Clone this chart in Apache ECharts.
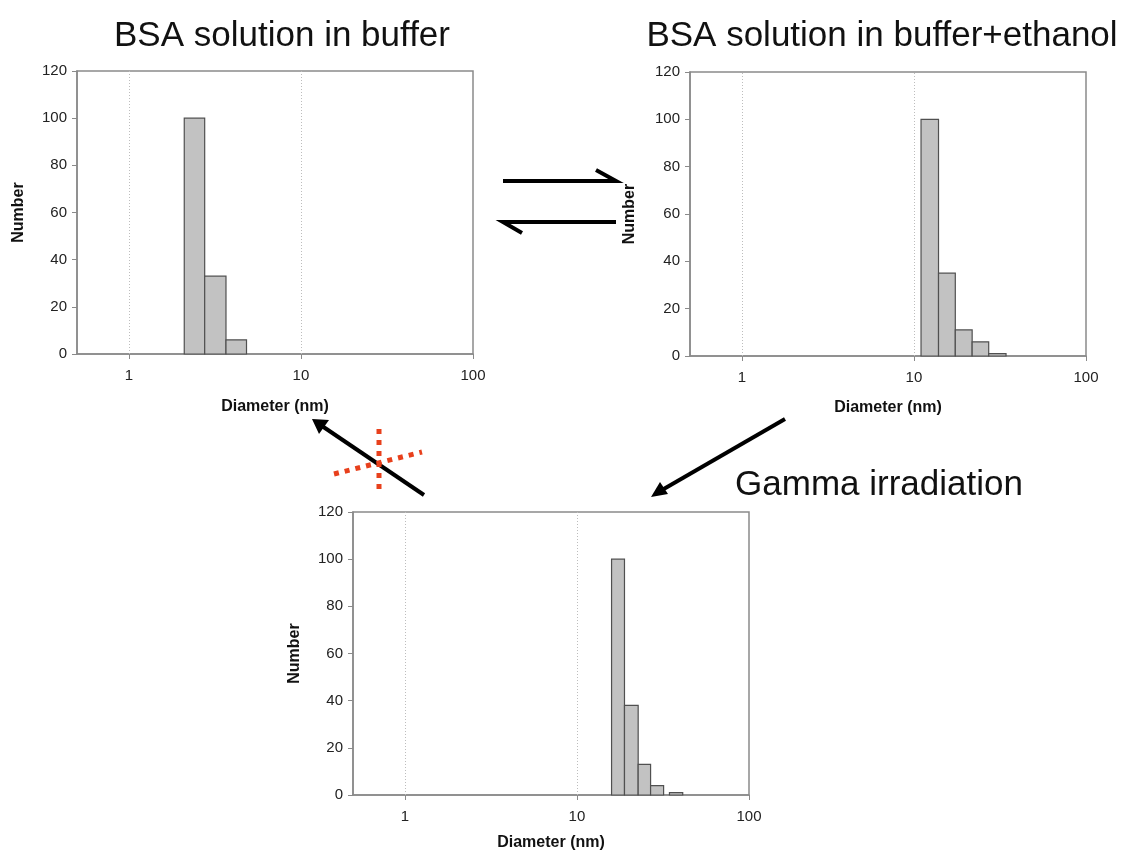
<!DOCTYPE html>
<html>
<head>
<meta charset="utf-8">
<script src="https://cdn.jsdelivr.net/npm/echarts@6/dist/echarts.min.js"></script>
<style>
  html, body { margin: 0; padding: 0; background: #fff; }
  #chart { width: 1123px; height: 854px; }
</style>
</head>
<body>
<div id="chart"></div>
<script>
// Size distributions (number-weighted) on log-spaced diameter bins, nm
const bufferLo  = [2.10, 2.76, 3.67];
const bufferHi  = [2.76, 3.67, 4.83];
const bufferNum = [100, 33, 6];

const ethanolLo  = [11.0, 13.9, 17.4, 21.8, 27.2];
const ethanolHi  = [13.9, 17.4, 21.8, 27.2, 34.3];
const ethanolNum = [100, 35, 11, 6, 1];

const gammaLo  = [15.9, 18.9, 22.7, 26.8, 34.5];
const gammaHi  = [18.9, 22.7, 26.8, 31.9, 41.2];
const gammaNum = [100, 38, 13, 4, 1];

const xTicks = [1, 10, 100];
const xGridLines = [1, 10];
const yTicks = [0, 20, 40, 60, 80, 100, 120];

const panelTitles = ['BSA solution in buffer', 'BSA solution in buffer+ethanol', 'Gamma irradiation'];

const FONT = '"Liberation Sans", Arial, sans-serif';
const TXT = '#222';

const chart = echarts.init(document.getElementById('chart'), null, { renderer: 'canvas' });

// Plot frames (px) for the three panels
const grids = [
  { left: 77,  top: 71,  width: 396, height: 283 },
  { left: 690, top: 72,  width: 396, height: 284 },
  { left: 353, top: 512, width: 396, height: 283 }
];
const nameGapsX = [45, 44, 40];
const nameGapsY = [50, 52, 50];

function rows(lo, hi, n) {
  return lo.map((v, i) => [v, hi[i], n[i]]);
}
const panels = [
  rows(bufferLo, bufferHi, bufferNum),
  rows(ethanolLo, ethanolHi, ethanolNum),
  rows(gammaLo, gammaHi, gammaNum)
];

function renderBin(params, api) {
  const p0 = api.coord([api.value(0), 0]);
  const p1 = api.coord([api.value(1), api.value(2)]);
  return {
    type: 'rect',
    shape: { x: p0[0], y: p1[1], width: p1[0] - p0[0], height: p0[1] - p1[1] },
    style: { fill: '#c2c2c2', stroke: '#505050', lineWidth: 1.2 }
  };
}

const titleStyle = { fontFamily: FONT, fontSize: 35, fontWeight: 'normal', color: '#111' };

const option = {
  backgroundColor: '#fff',
  animation: false,
  title: [
    { text: panelTitles[0], left: 277, top: 14, textAlign: 'center', textStyle: titleStyle },
    { text: panelTitles[1], left: 877, top: 14, textAlign: 'center', textStyle: titleStyle },
    { text: panelTitles[2], left: 874, top: 463, textAlign: 'center', textStyle: titleStyle }
  ],
  grid: grids.map(g => Object.assign({ show: true, borderColor: '#8a8a8a', borderWidth: 1.5,
                                        backgroundColor: 'transparent' }, g)),
  xAxis: grids.map((g, i) => ({
    type: 'log', logBase: 10, min: 0.5, max: 100, gridIndex: i,
    name: 'Diameter (nm)', nameLocation: 'middle', nameGap: nameGapsX[i],
    nameTextStyle: { fontFamily: FONT, fontSize: 16, fontWeight: 'bold', color: '#111' },
    axisLine: { show: true, lineStyle: { color: '#8a8a8a', width: 1.5 } },
    axisTick: { show: true, customValues: xTicks, length: 5, lineStyle: { color: '#8a8a8a' } },
    axisLabel: { customValues: xTicks, margin: 14, fontFamily: FONT, fontSize: 15, color: TXT,
                 formatter: v => String(v) },
    splitLine: { show: false },
    minorTick: { show: false }, minorSplitLine: { show: false }
  })),
  yAxis: grids.map((g, i) => ({
    type: 'value', min: 0, max: 120, interval: 20, gridIndex: i,
    name: 'Number', nameLocation: 'middle', nameGap: nameGapsY[i], nameRotate: 90,
    nameTextStyle: { fontFamily: FONT, fontSize: 16, fontWeight: 'bold', color: '#111' },
    axisLine: { show: true, lineStyle: { color: '#8a8a8a', width: 1.5 } },
    axisTick: { show: true, length: 5, lineStyle: { color: '#8a8a8a' } },
    axisLabel: { margin: 10, fontFamily: FONT, fontSize: 15, color: TXT,
                 formatter: v => (yTicks.indexOf(v) >= 0 ? String(v) : '') },
    splitLine: { show: false }
  })),
  series: panels.map((data, i) => ({
    type: 'custom', xAxisIndex: i, yAxisIndex: i,
    renderItem: renderBin,
    encode: { x: [0, 1], y: 2 },
    data: data, clip: false,
    z: 3,
    // dotted vertical guides at whole decades
    markLine: {
      silent: true, symbol: 'none', label: { show: false }, animation: false,
      lineStyle: { color: '#bdbdbd', type: [1, 2], width: 1 },
      data: xGridLines.map(v => ({ xAxis: v }))
    }
  })),
  graphic: [
    // reversible transfer between buffer and buffer+ethanol
    { type: 'polyline', shape: { points: [[503, 181], [616, 181], [596, 170]] },
      style: { stroke: '#000', lineWidth: 4, fill: null, lineJoin: 'miter' } },
    { type: 'polyline', shape: { points: [[522, 233], [503, 222], [616, 222]] },
      style: { stroke: '#000', lineWidth: 4, fill: null, lineJoin: 'miter' } },
    // ethanol sample -> irradiated sample
    { type: 'line', shape: { x1: 785, y1: 419, x2: 662, y2: 490 },
      style: { stroke: '#000', lineWidth: 4 } },
    { type: 'polygon', shape: { points: [[651, 497], [660, 482], [668, 494]] },
      style: { fill: '#000' } },
    // irradiated -> buffer (blocked)
    { type: 'line', shape: { x1: 424, y1: 495, x2: 322, y2: 426 },
      style: { stroke: '#000', lineWidth: 4 } },
    { type: 'polygon', shape: { points: [[312, 419], [329, 420], [319, 434]] },
      style: { fill: '#000' } },
    { type: 'line', shape: { x1: 379, y1: 429, x2: 379, y2: 495 },
      style: { stroke: '#e8401c', lineWidth: 5, lineDash: [5, 6] } },
    { type: 'line', shape: { x1: 334, y1: 474, x2: 422, y2: 452 },
      style: { stroke: '#e8401c', lineWidth: 5, lineDash: [5, 6] } }
  ]
};

chart.setOption(option);
</script>
</body>
</html>
